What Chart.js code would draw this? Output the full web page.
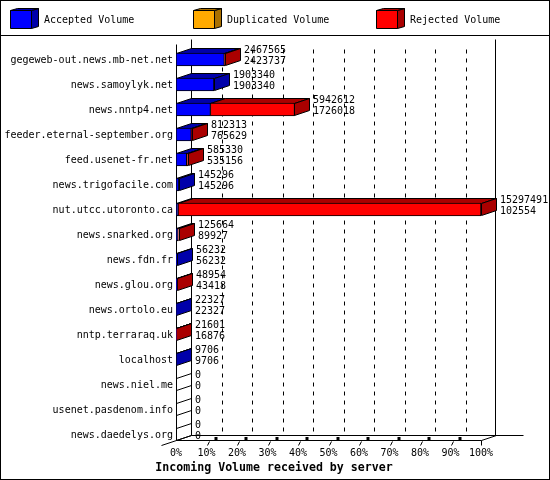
<!DOCTYPE html>
<html>
<head>
<meta charset="utf-8">
<title>Incoming Volume received by server</title>
<script src="https://cdn.jsdelivr.net/npm/chart.js@4"></script>
<style>
    html, body { margin: 0; padding: 0; background: #fff; }
    canvas { display: block; }
</style>
</head>
<body>
<canvas id="volumeChart" width="550" height="480"></canvas>
<script>
const servers = [
    'gegeweb-out.news.mb-net.net', 'news.samoylyk.net', 'news.nntp4.net',
    'feeder.eternal-september.org', 'feed.usenet-fr.net', 'news.trigofacile.com',
    'nut.utcc.utoronto.ca', 'news.snarked.org', 'news.fdn.fr', 'news.glou.org',
    'news.ortolo.eu', 'nntp.terraraq.uk', 'localhost', 'news.niel.me',
    'usenet.pasdenom.info', 'news.daedelys.org'
];
const acceptedVolume = [2423737, 1903340, 1726018, 765629, 535156, 145296, 102554, 89927, 56232, 43418, 22327, 16876, 9706, 0, 0, 0];
const duplicatedVolume = [0, 0, 0, 0, 0, 0, 0, 0, 0, 0, 0, 0, 0, 0, 0, 0];
const rejectedVolume = [43828, 0, 4216594, 46684, 50174, 0, 15194937, 35737, 0, 5536, 0, 4725, 0, 0, 0, 0];
const maxVolume = 15297491;
const chartTitle = 'Incoming Volume received by server';

const FONT = '"DejaVu Sans Mono", monospace';
const DEPTH_X = 15;
const DEPTH_Y = 5;
const shades = ['#0000aa', '#aa7000', '#aa0000'];

function poly(ctx, points, fill) {
    ctx.beginPath();
    points.forEach((p, i) => i ? ctx.lineTo(p[0], p[1]) : ctx.moveTo(p[0], p[1]));
    ctx.closePath();
    if (fill) {
        ctx.fillStyle = fill;
        ctx.fill();
    }
    ctx.stroke();
}

function line(ctx, x1, y1, x2, y2) {
    ctx.beginPath();
    ctx.moveTo(x1, y1);
    ctx.lineTo(x2, y2);
    ctx.stroke();
}

// frame, legend cubes, back wall and floor, all behind the bars
const backdrop = {
    id: 'backdrop',
    beforeDatasetsDraw(chart) {
        const { ctx, scales: { x } } = chart;
        const area = chart.chartArea;
        const left = Math.round(area.left) + 0.5;
        const right = Math.round(area.right) + 0.5;
        const floor = Math.round(area.bottom) - 7 + 0.5;
        const top = Math.round(area.top) - 2 + 0.5;

        ctx.save();
        ctx.strokeStyle = '#000';
        ctx.lineWidth = 1;
        ctx.strokeRect(0.5, 0.5, 549, 479);
        line(ctx, 0, 35.5, 550, 35.5);

        // legend
        const legendX = [10, 193, 376];
        chart.data.datasets.forEach((ds, i) => {
            const lx = legendX[i] + 0.5;
            poly(ctx, [[lx + 21, 10.5], [lx + 28, 8.5], [lx + 28, 26.5], [lx + 21, 28.5]], shades[i]);
            poly(ctx, [[lx, 10.5], [lx + 7, 8.5], [lx + 28, 8.5], [lx + 21, 10.5]], shades[i]);
            poly(ctx, [[lx, 10.5], [lx + 21, 10.5], [lx + 21, 28.5], [lx, 28.5]], ds.backgroundColor);
            ctx.fillStyle = '#000';
            ctx.font = '10px ' + FONT;
            ctx.textAlign = 'left';
            ctx.textBaseline = 'middle';
            ctx.fillText(ds.label, legendX[i] + 34, 20.5);
        });

        // dashed gridlines on the back wall
        ctx.setLineDash([4, 5]);
        x.ticks.slice(1, -1).forEach(t => {
            const gx = Math.round(x.getPixelForValue(t.value)) + DEPTH_X + 0.5;
            line(ctx, gx, top + 4, gx, floor - DEPTH_Y);
        });
        ctx.setLineDash([]);

        line(ctx, left, top - 1, left, floor);
        line(ctx, left + DEPTH_X, top - 6, left + DEPTH_X, floor - DEPTH_Y);
        line(ctx, right + DEPTH_X - 1, top - 6, right + DEPTH_X - 1, floor - DEPTH_Y);
        line(ctx, left, floor, right, floor);
        line(ctx, left + DEPTH_X, floor - DEPTH_Y, right + 42, floor - DEPTH_Y);
        line(ctx, left - DEPTH_X, floor + DEPTH_Y, left + DEPTH_X, floor - DEPTH_Y);
        line(ctx, right, floor, right + DEPTH_X, floor - DEPTH_Y);

        // tick stubs under the floor
        x.ticks.forEach((t, i) => {
            const tx = Math.round(x.getPixelForValue(t.value)) + 0.5;
            if (i === 0) return;
            if (i === x.ticks.length - 1) {
                line(ctx, tx, floor, tx, floor + DEPTH_Y);
                return;
            }
            line(ctx, tx, floor + DEPTH_Y, tx + 2, floor + 1);
            ctx.fillStyle = '#000';
            ctx.fillRect(tx + 7, floor - 3.5, 3, 3);
        });

        // top and side faces of the bars
        const metas = chart.data.datasets.map((ds, i) => chart.getDatasetMeta(i));
        servers.forEach((name, i) => {
            const bars = metas.map(m => m.data[i]);
            const live = bars.map((b, s) => ({ b, s })).filter(o => chart.data.datasets[o.s].data[i] > 0);
            const y0 = Math.floor(bars[0].y - bars[0].height / 2) + 0.5;
            const y1 = Math.floor(bars[0].y + bars[0].height / 2) - 0.5;
            if (!live.length) {
                line(ctx, left, y0, left + DEPTH_X, y0 - DEPTH_Y);
                line(ctx, left, y1, left + DEPTH_X, y1 - DEPTH_Y);
                return;
            }
            live.forEach(o => {
                const l = Math.round(o.b.base) + 0.5;
                const r = Math.round(o.b.x) + 0.5;
                poly(ctx, [[l, y0], [l + DEPTH_X, y0 - DEPTH_Y], [r + DEPTH_X, y0 - DEPTH_Y], [r, y0]], shades[o.s]);
            });
            const last = live[live.length - 1];
            const r = Math.round(last.b.x) + 0.5;
            poly(ctx, [[r, y0], [r + DEPTH_X, y0 - DEPTH_Y], [r + DEPTH_X, y1 - DEPTH_Y], [r, y1]], shades[last.s]);
        });
        ctx.restore();
    },
    // total and accepted figures beside each bar, then the title
    afterDatasetsDraw(chart) {
        const { ctx, scales: { x, y } } = chart;
        ctx.save();
        ctx.fillStyle = '#000';
        ctx.font = '10px ' + FONT;
        ctx.textAlign = 'left';
        ctx.textBaseline = 'middle';
        servers.forEach((name, i) => {
            const total = acceptedVolume[i] + duplicatedVolume[i] + rejectedVolume[i];
            const tx = Math.round(x.getPixelForValue(total)) + DEPTH_X + 4;
            const cy = y.getPixelForValue(i);
            ctx.fillText(String(total), tx, cy - 9);
            ctx.fillText(String(acceptedVolume[i]), tx, cy + 2);
        });
        ctx.font = 'bold 11.6px ' + FONT;
        ctx.textAlign = 'center';
        ctx.fillText(chartTitle, 274, 467.5);
        ctx.restore();
    }
};

new Chart(document.getElementById('volumeChart'), {
    type: 'bar',
    data: {
        labels: servers,
        datasets: [
            { label: 'Accepted Volume', data: acceptedVolume, backgroundColor: '#0000ff' },
            { label: 'Duplicated Volume', data: duplicatedVolume, backgroundColor: '#ffaa00' },
            { label: 'Rejected Volume', data: rejectedVolume, backgroundColor: '#ff0000' }
        ].map(ds => ({ ...ds, borderColor: '#000', borderWidth: 1, borderSkipped: false, barThickness: 13 }))
    },
    options: {
        indexAxis: 'y',
        responsive: false,
        devicePixelRatio: 1,
        animation: false,
        layout: { padding: { top: 47, right: 69, bottom: 20 } },
        plugins: {
            legend: { display: false },
            tooltip: { enabled: false }
        },
        scales: {
            x: {
                stacked: true,
                min: 0,
                max: maxVolume,
                grid: { display: false, drawTicks: false },
                border: { display: false },
                afterFit(scale) { scale.height = 13; },
                ticks: {
                    stepSize: maxVolume / 10,
                    padding: 0,
                    maxRotation: 0,
                    autoSkip: false,
                    color: '#000',
                    font: { family: FONT, size: 10 },
                    callback: value => Math.round(value / maxVolume * 100) + '%'
                }
            },
            y: {
                stacked: true,
                grid: { display: false, drawTicks: false },
                border: { display: false },
                afterFit(scale) { scale.width = 176; },
                ticks: {
                    padding: 3,
                    labelOffset: 1,
                    autoSkip: false,
                    color: '#000',
                    font: { family: FONT, size: 10 }
                }
            }
        }
    },
    plugins: [backdrop]
});
</script>
</body>
</html>
